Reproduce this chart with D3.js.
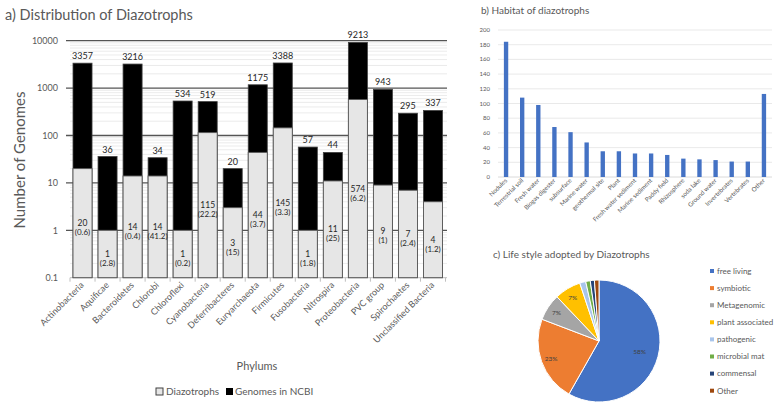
<!DOCTYPE html>
<html><head><meta charset="utf-8">
<script src="https://cdn.jsdelivr.net/npm/d3@7"></script>
<style>body{margin:0;background:#fff}svg{display:block;font-family:Lato,"Open Sans",sans-serif}</style>
</head><body><svg id="c" width="780" height="407"></svg>
<script>
// ---- Panel a data
const phylums = ["Actinobacteria","Aquificae","Bacteroidetes","Chlorobi","Chloroflexi","Cyanobacteria","Deferribacteres","Euryarchaeota","Firmicutes","Fusobacteria","Nitrospira","Proteobacteria","PVC group","Spirochaetes","Unclassified Bacteria"];
const ncbiGenomes = [3357,36,3216,34,534,519,20,1175,3388,57,44,9213,943,295,337];
const diazotrophs = [20,1,14,14,1,115,3,44,145,1,11,574,9,7,4];
const diazoPercent = ["0.6","2.8","0.4","41.2","0.2","22.2","15","3.7","3.3","1.8","25","6.2","1","2.4","1.2"];
const logTicks = [0.1,1,10,100,1000,10000];
const seriesNames = ["Diazotrophs","Genomes in NCBI"];
// ---- Panel b data
const habitats = ["Nodules","Terrestrial soil","Fresh water","Biogas digester","subsurface","Marine water","geothermal site","Plant","Fresh water sediment","Marine sediment","Paddy field","Rhizosphere","soda lake","Ground water","Invertebrates","Vertebrates","Other"];
const habitatCounts = [184,108,98,68,61,47,35,35,32,32,30,25,24,23,21,21,113];
const habitatTicks = [0,20,40,60,80,100,120,140,160,180,200];
// ---- Panel c data
const lifestyles = ["free living","symbiotic","Metagenomic","plant associated","pathogenic","microbial mat","commensal","Other"];
const lifestylePct = [58.2,22.6,7.1,7.0,1.6,1.2,1.1,1.2];
const lifestyleColors = ["#4472C4","#ED7D31","#A5A5A5","#FFC000","#A9C5EB","#70AD47","#264478","#9E480E"];

const svg = d3.select("#c");
const txt = "#595959";

// ================= Panel a =================
const ya = d3.scaleLog().domain([0.1,10000]).range([277.7,40.7]);
const xa = d3.scaleBand().domain(phylums).range([70,445.5]).paddingInner(0.24).paddingOuter(0.12);
const ga = svg.append("g");
ga.append("text").attr("x",5).attr("y",20).attr("font-size",14.5).attr("fill",txt).text("a) Distribution of Diazotrophs");
// minor gridlines
const minor=[];
[0.1,1,10,100,1000].forEach(d=>{for(let k=2;k<=9;k++)minor.push(d*k);});
ga.selectAll(".mn").data(minor).join("line").attr("x1",70).attr("x2",447)
  .attr("y1",d=>ya(d)).attr("y2",d=>ya(d)).attr("stroke","#e6e6e6").attr("stroke-width",0.8);
// major gridlines
ga.selectAll(".mj").data(logTicks.slice(1)).join("line").attr("x1",66).attr("x2",447)
  .attr("y1",d=>ya(d)).attr("y2",d=>ya(d)).attr("stroke","#555").attr("stroke-width",1.3);
ga.selectAll(".yt").data(logTicks).join("text").attr("x",58).attr("y",d=>ya(d)+3.2)
  .attr("text-anchor","end").attr("font-size",9).attr("fill",txt).text(d=>d);
// x axis
ga.append("line").attr("x1",70).attr("x2",447).attr("y1",ya(0.1)).attr("y2",ya(0.1)).attr("stroke","#bfbfbf");
const step = xa.step();
ga.selectAll(".xt").data(d3.range(phylums.length+1)).join("line")
  .attr("x1",i=>70+i*step).attr("x2",i=>70+i*step).attr("y1",ya(0.1)).attr("y2",ya(0.1)+4).attr("stroke","#bfbfbf");
// bars
ga.selectAll(".bk").data(phylums).join("rect")
  .attr("x",d=>xa(d)).attr("width",xa.bandwidth())
  .attr("y",(d,i)=>ya(ncbiGenomes[i])).attr("height",(d,i)=>ya(0.1)-ya(ncbiGenomes[i]))
  .attr("fill","#000").attr("stroke","#404040").attr("stroke-width",0.8);
ga.selectAll(".gr").data(phylums).join("rect")
  .attr("x",d=>xa(d)).attr("width",xa.bandwidth())
  .attr("y",(d,i)=>ya(diazotrophs[i])).attr("height",(d,i)=>ya(0.1)-ya(diazotrophs[i]))
  .attr("fill","#e6e6e6").attr("stroke","#595959").attr("stroke-width",0.9);
// total labels
ga.selectAll(".tl").data(phylums).join("text")
  .attr("x",d=>xa(d)+xa.bandwidth()/2).attr("y",(d,i)=>ya(ncbiGenomes[i])-4)
  .attr("text-anchor","middle").attr("font-size",9).attr("fill","#262626").text((d,i)=>ncbiGenomes[i]);
// inner labels
phylums.forEach((p,i)=>{
  const cy = (ya(diazotrophs[i])+ya(0.1))/2;
  const cx = xa(p)+xa.bandwidth()/2;
  ga.append("text").attr("x",cx).attr("y",cy+3).attr("text-anchor","middle").attr("font-size",8.5).attr("fill","#262626").text(diazotrophs[i]);
  ga.append("text").attr("x",cx).attr("y",cy+12).attr("text-anchor","middle").attr("font-size",8).attr("fill","#262626").text("("+diazoPercent[i]+")");
});
// category labels
ga.selectAll(".cl").data(phylums).join("text")
  .attr("transform",d=>`translate(${xa(d)+xa.bandwidth()/2+2},${ya(0.1)+8}) rotate(-45)`)
  .attr("text-anchor","end").attr("font-size",9).attr("fill",txt).text(d=>d);
ga.append("text").attr("transform","translate(25,160) rotate(-90)").attr("text-anchor","middle")
  .attr("font-size",15).attr("fill",txt).text("Number of Genomes");
ga.append("text").attr("x",257).attr("y",370).attr("text-anchor","middle").attr("font-size",11).attr("fill",txt).text("Phylums");
// legend
const lg = ga.append("g");
lg.append("rect").attr("x",156).attr("y",388).attr("width",7).attr("height",7).attr("fill","#e6e6e6").attr("stroke","#404040");
lg.append("text").attr("x",166).attr("y",395).attr("font-size",10).attr("fill",txt).text(seriesNames[0]);
lg.append("rect").attr("x",226).attr("y",388).attr("width",7).attr("height",7).attr("fill","#000");
lg.append("text").attr("x",235).attr("y",395).attr("font-size",10).attr("fill",txt).text(seriesNames[1]);

// ================= Panel b =================
const gb = svg.append("g");
gb.append("text").attr("x",481).attr("y",14).attr("font-size",10).attr("fill",txt).text("b) Habitat of diazotrophs");
const yb = d3.scaleLinear().domain([0,200]).range([177,30]);
const xb = d3.scaleBand().domain(habitats).range([498,772]).paddingInner(0.73).paddingOuter(0.365);
gb.selectAll(".g").data(habitatTicks).join("line").attr("x1",498).attr("x2",772)
  .attr("y1",d=>yb(d)).attr("y2",d=>yb(d)).attr("stroke",(d)=>d===0?"#d0d0d0":"#e3e3e3").attr("stroke-width",0.8);
gb.selectAll(".t").data(habitatTicks).join("text").attr("x",490).attr("y",d=>yb(d)+2).attr("text-anchor","end")
  .attr("font-size",6).attr("fill",txt).text(d=>d);
gb.selectAll(".b").data(habitats).join("rect").attr("x",d=>xb(d)).attr("width",xb.bandwidth())
  .attr("y",(d,i)=>yb(habitatCounts[i])).attr("height",(d,i)=>yb(0)-yb(habitatCounts[i])).attr("fill","#4472C4");
gb.selectAll(".l").data(habitats).join("text")
  .attr("transform",d=>`translate(${xb(d)+xb.bandwidth()/2+1.5},${yb(0)+4}) rotate(-45)`)
  .attr("text-anchor","end").attr("font-size",6.2).attr("fill",txt).text(d=>d);

// ================= Panel c =================
const gc = svg.append("g");
gc.append("text").attr("x",493).attr("y",258).attr("font-size",10).attr("fill",txt).text("c) Life style adopted by Diazotrophs");
const pie = d3.pie().sort(null).value(d=>d)(lifestylePct);
const arc = d3.arc().innerRadius(0).outerRadius(61);
const pc = gc.append("g").attr("transform","translate(599,341)");
pc.selectAll("path").data(pie).join("path").attr("d",arc).attr("fill",(d,i)=>lifestyleColors[i]).attr("stroke","#fff").attr("stroke-width",1);
pc.selectAll(".pl").data(pie.slice(0,4)).join("text")
  .attr("transform",(d,i)=>{const r=i===0?42:51;const c=d3.arc().innerRadius(r).outerRadius(r).centroid(d);return `translate(${c[0]},${c[1]+2.3})`;})
  .attr("text-anchor","middle").attr("font-size",6.5).attr("fill","#404040").text(d=>Math.round(d.data)+"%");
const lc = gc.selectAll(".lg").data(lifestyles).join("g").attr("transform",(d,i)=>`translate(710,${271+i*17.1})`);
lc.append("rect").attr("x",0).attr("y",-2).attr("width",4).attr("height",4).attr("fill",(d,i)=>lifestyleColors[i]);
lc.append("text").attr("x",7).attr("y",2.8).attr("font-size",8).attr("fill",txt).text(d=>d);
</script></body></html>
